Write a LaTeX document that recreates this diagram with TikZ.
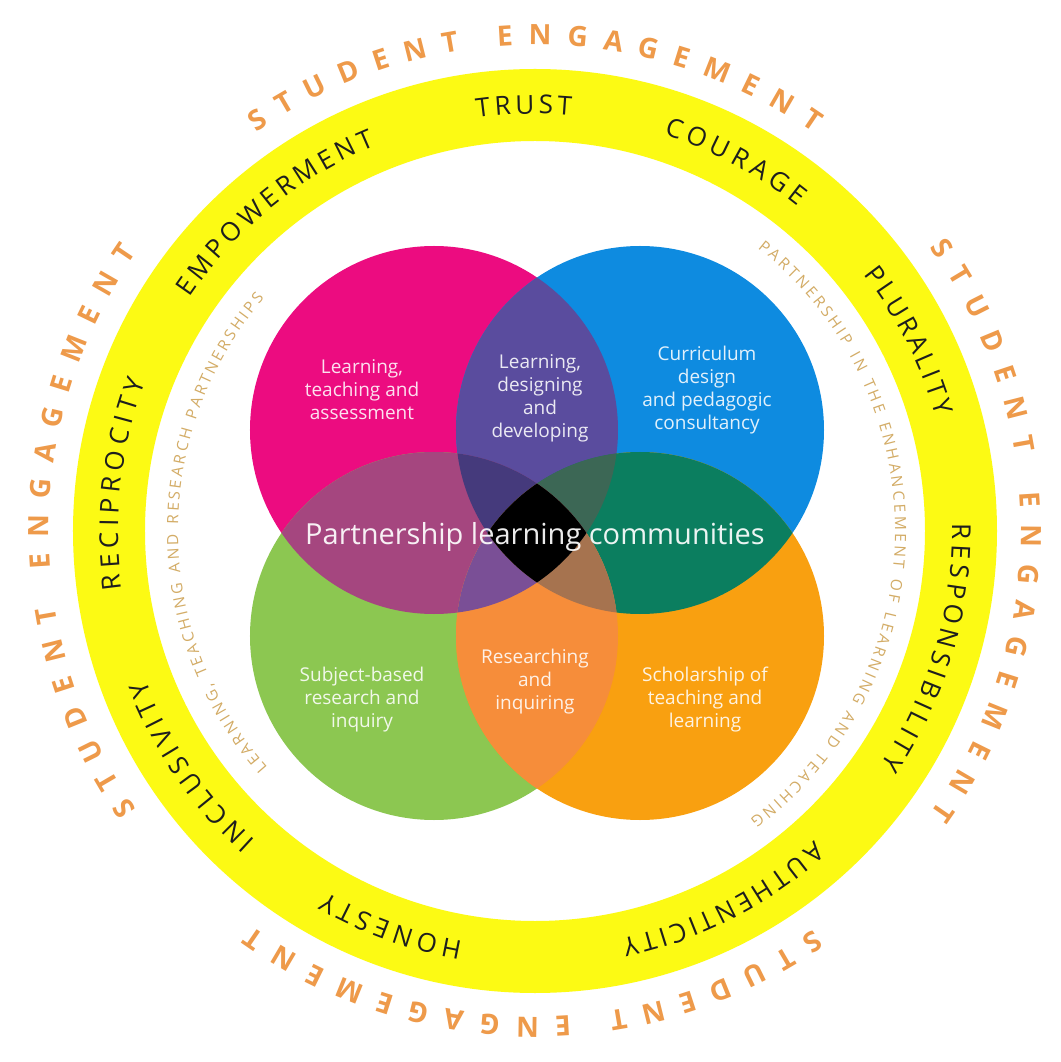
\documentclass[tikz,border=0pt]{standalone}
\usepackage{fontspec}
\setmainfont{Open Sans}
\newfontfamily\wordfont{Open Sans}
\usetikzlibrary{decorations.text}
\definecolor{cP}{HTML}{EC0C80}
\definecolor{cB}{HTML}{0E8BE0}
\definecolor{cG}{HTML}{8CC751}
\definecolor{cO}{HTML}{F9A010}
\definecolor{cPB}{HTML}{5A4C9E}
\definecolor{cPG}{HTML}{A5467F}
\definecolor{cBO}{HTML}{0B7E5F}
\definecolor{cGO}{HTML}{F68D3A}
\definecolor{cPBG}{HTML}{453A7C}
\definecolor{cPBO}{HTML}{3C6755}
\definecolor{cPGO}{HTML}{7A4F96}
\definecolor{cBGO}{HTML}{A6734F}
\definecolor{ringyellow}{RGB}{252,250,20}
\definecolor{engorange}{HTML}{EE9A4A}
\definecolor{thintan}{HTML}{D3AC66}
\definecolor{wordblack}{HTML}{1E1E1E}
\newcommand\arctext[6]{%
  \path[decorate,decoration={text along path,text={|#5|#6},
    text align={fit to path},text color=#4}]
    (#2:#1) arc[start angle=#2,end angle=#3,radius=#1];}
\newcommand\engsize{\wordfont\bfseries\fontsize{28}{30}\selectfont}
\newcommand\wsize{\wordfont\fontsize{26}{28}\selectfont}
\newcommand\tsize{\wordfont\fontsize{15.5}{17}\selectfont}
\begin{document}
\begin{tikzpicture}[x=1pt,y=1pt,
  lbl/.style={align=center,text=white,text opacity=0.88,
    font=\fontsize{19}{23}\selectfont},
  biglbl/.style={text=white,text opacity=0.92,
    font=\fontsize{29}{32}\selectfont}]
\useasboundingbox[fill=white] (-535,-531) rectangle (525,531);
% yellow ring
\fill[ringyellow,even odd rule] (0,0) circle (462pt) (0,0) circle (390pt);
% circle centres
\coordinate (P) at (-101,101);
\coordinate (B) at (105,101);
\coordinate (G) at (-101,-105);
\coordinate (O) at (105,-105);
\def\R{184pt}
% single circles
\fill[cP] (P) circle (\R);
\fill[cB] (B) circle (\R);
\fill[cG] (G) circle (\R);
\fill[cO] (O) circle (\R);
% pairs
\begin{scope}\clip (P) circle (\R); \fill[cPB] (B) circle (\R);\end{scope}
\begin{scope}\clip (P) circle (\R); \fill[cPG] (G) circle (\R);\end{scope}
\begin{scope}\clip (B) circle (\R); \fill[cBO] (O) circle (\R);\end{scope}
\begin{scope}\clip (G) circle (\R); \fill[cGO] (O) circle (\R);\end{scope}
% triples
\begin{scope}\clip (P) circle (\R); \clip (B) circle (\R); \fill[cPBG] (G) circle (\R);\end{scope}
\begin{scope}\clip (P) circle (\R); \clip (B) circle (\R); \fill[cPBO] (O) circle (\R);\end{scope}
\begin{scope}\clip (P) circle (\R); \clip (G) circle (\R); \fill[cPGO] (O) circle (\R);\end{scope}
\begin{scope}\clip (B) circle (\R); \clip (G) circle (\R); \fill[cBGO] (O) circle (\R);\end{scope}
% all four
\begin{scope}\clip (P) circle (\R); \clip (B) circle (\R); \clip (G) circle (\R);
  \fill[black] (O) circle (\R);\end{scope}
% labels in circles
\node[lbl] (lta) at (-173,141) {Learning,\\teaching and\\assessment};
\node[lbl] (ldd) at (5,133) {Learning,\\designing\\and\\developing};
\node[lbl] (cdp) at (172,141) {Curriculum\\design\\and pedagogic\\consultancy};
\node[biglbl] (plc) at (0,-6) {Partnership learning communities};
\node[lbl] (sbr) at (-173,-169) {Subject-based\\research and\\inquiry};
\node[lbl] (rai) at (0,-151) {Researching\\and\\inquiring};
\node[lbl] (stl) at (170,-169) {Scholarship of\\teaching and\\learning};
% outer STUDENT ENGAGEMENT
\arctext{486pt}{125}{55}{engorange}{\engsize}{STUDENT ENGAGEMENT}
\arctext{486pt}{35.7}{-35.6}{engorange}{\engsize}{STUDENT ENGAGEMENT}
\arctext{486pt}{-55}{-125.5}{engorange}{\engsize}{STUDENT ENGAGEMENT}
\arctext{486pt}{215}{145}{engorange}{\engsize}{STUDENT ENGAGEMENT}
% words in yellow ring
\arctext{417pt}{98}{85}{wordblack}{\wsize}{TRUST}
\arctext{417pt}{72}{51}{wordblack}{\wsize}{COURAGE}
\arctext{417pt}{38}{16}{wordblack}{\wsize}{PLURALITY}
\arctext{417pt}{1}{-34}{wordblack}{\wsize}{RESPONSIBILITY}
\arctext{417pt}{-48}{-78}{wordblack}{\wsize}{AUTHENTICITY}
\arctext{417pt}{-100}{-120}{wordblack}{\wsize}{HONESTY}
\arctext{417pt}{-132}{-159}{wordblack}{\wsize}{INCLUSIVITY}
\arctext{417pt}{188}{159}{wordblack}{\wsize}{RECIPROCITY}
\arctext{417pt}{146}{112.5}{wordblack}{\wsize}{EMPOWERMENT}
% thin inner texts
\arctext{357pt}{221.5}{139.4}{thintan}{\tsize}{LEARNING, TEACHING AND RESEARCH PARTNERSHIPS}
\arctext{360pt}{51.8}{-53.3}{thintan}{\tsize}{PARTNERSHIP IN THE ENHANCEMENT OF LEARNING AND TEACHING}
\end{tikzpicture}
\end{document}
